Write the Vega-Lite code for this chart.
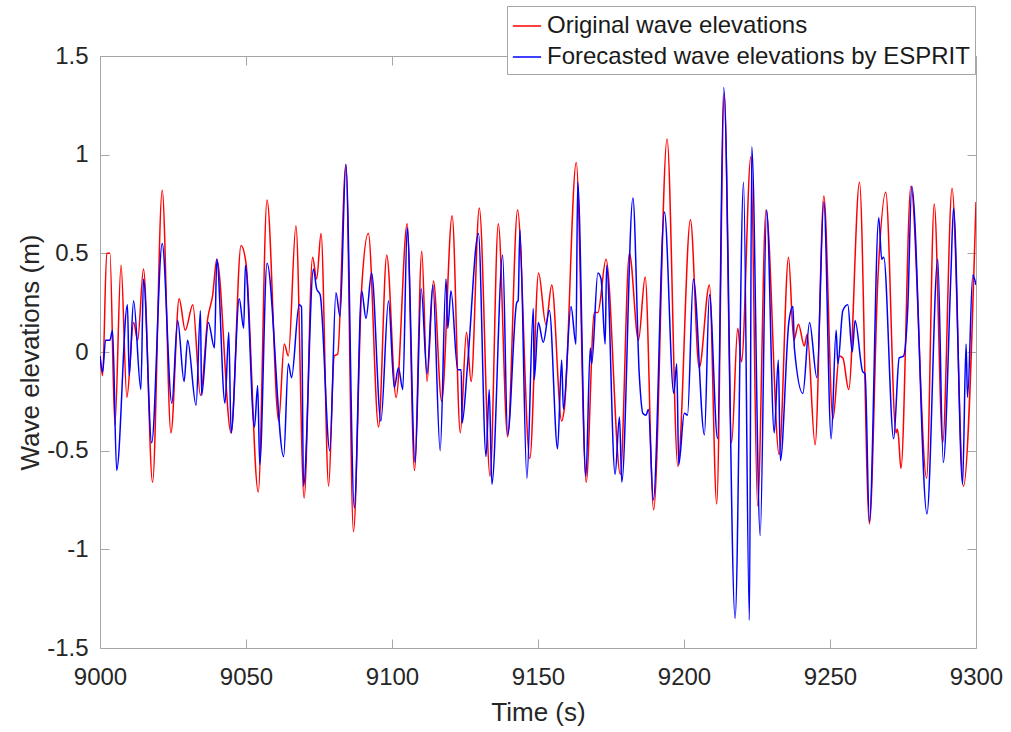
{
  "$schema": "https://vega.github.io/schema/vega-lite/v6.json",
  "width": 876,
  "height": 592,
  "autosize": {"type": "none"},
  "padding": {"left": 100, "top": 56, "right": 35, "bottom": 84},
  "background": "white",
  "config": {"font": "Liberation Sans", "view": {"stroke": null}},
  "datasets": {
    "original": [
      {"t": 9000, "v": -0.02}, {"t": 9000.9, "v": -0.12}, {"t": 9002.3, "v": 0.5}, {"t": 9003.4, "v": 0.5},
      {"t": 9005.1, "v": -0.37}, {"t": 9007.2, "v": 0.44}, {"t": 9009.2, "v": -0.23}, {"t": 9011.5, "v": 0.15},
      {"t": 9012.9, "v": 0.06}, {"t": 9014.9, "v": 0.42}, {"t": 9018.0, "v": -0.66}, {"t": 9021.3, "v": 0.82},
      {"t": 9024.3, "v": -0.41}, {"t": 9027.1, "v": 0.27}, {"t": 9029.2, "v": 0.11}, {"t": 9031.8, "v": 0.24},
      {"t": 9034.4, "v": -0.22}, {"t": 9036.9, "v": 0.17}, {"t": 9038.6, "v": 0.29}, {"t": 9040.0, "v": 0.47},
      {"t": 9044.9, "v": -0.41}, {"t": 9048.3, "v": 0.54}, {"t": 9050.0, "v": 0.45}, {"t": 9054.2, "v": -0.71},
      {"t": 9057.2, "v": 0.77}, {"t": 9061.2, "v": -0.35}, {"t": 9063.1, "v": 0.04}, {"t": 9064.5, "v": -0.02},
      {"t": 9067.1, "v": 0.64}, {"t": 9069.9, "v": -0.74}, {"t": 9072.8, "v": 0.48}, {"t": 9074.2, "v": 0.37},
      {"t": 9075.7, "v": 0.6}, {"t": 9078.3, "v": -0.68}, {"t": 9080.2, "v": -0.02}, {"t": 9081.4, "v": -0.01},
      {"t": 9084.2, "v": 0.95}, {"t": 9086.8, "v": -0.91}, {"t": 9089.6, "v": 0.32}, {"t": 9091.9, "v": 0.6},
      {"t": 9095.4, "v": -0.38}, {"t": 9098.2, "v": 0.49}, {"t": 9101.4, "v": -0.23}, {"t": 9105.2, "v": 0.65},
      {"t": 9107.7, "v": -0.6}, {"t": 9110.2, "v": 0.51}, {"t": 9112.0, "v": -0.15}, {"t": 9114.2, "v": 0.36},
      {"t": 9117.0, "v": -0.25}, {"t": 9120.6, "v": 0.69}, {"t": 9123.4, "v": -0.41}, {"t": 9125.5, "v": 0.1},
      {"t": 9127.1, "v": -0.15}, {"t": 9129.9, "v": 0.73}, {"t": 9133.6, "v": -0.63}, {"t": 9136.4, "v": 0.65},
      {"t": 9139.6, "v": -0.43}, {"t": 9143.0, "v": 0.72}, {"t": 9147.2, "v": -0.54}, {"t": 9150.2, "v": 0.4},
      {"t": 9152.7, "v": 0.14}, {"t": 9154.7, "v": 0.34}, {"t": 9158.1, "v": -0.35}, {"t": 9159.0, "v": -0.29},
      {"t": 9163.1, "v": 0.96}, {"t": 9166.5, "v": -0.66}, {"t": 9169.3, "v": 0.2}, {"t": 9170.5, "v": 0.2},
      {"t": 9173.3, "v": 0.47}, {"t": 9178.2, "v": -0.62}, {"t": 9181.3, "v": 0.5}, {"t": 9184.4, "v": 0.06},
      {"t": 9186.7, "v": 0.38}, {"t": 9189.6, "v": -0.8}, {"t": 9194.2, "v": 1.08}, {"t": 9197.9, "v": -0.58},
      {"t": 9202.2, "v": 0.67}, {"t": 9205.2, "v": -0.08}, {"t": 9208.7, "v": 0.34}, {"t": 9211.2, "v": -0.77},
      {"t": 9213.8, "v": 1.31}, {"t": 9216.3, "v": -0.46}, {"t": 9218.4, "v": 0.12}, {"t": 9219.7, "v": -0.05},
      {"t": 9222.9, "v": 0.99}, {"t": 9225.2, "v": -0.78}, {"t": 9228.1, "v": 0.72}, {"t": 9232.6, "v": -0.52},
      {"t": 9235.8, "v": 0.48}, {"t": 9237.6, "v": 0.06}, {"t": 9239.2, "v": 0.14}, {"t": 9241.2, "v": 0.03},
      {"t": 9242.2, "v": 0.09}, {"t": 9244.9, "v": -0.47}, {"t": 9247.9, "v": 0.79}, {"t": 9251.0, "v": -0.34},
      {"t": 9253.2, "v": -0.02}, {"t": 9254.4, "v": -0.03}, {"t": 9256.4, "v": -0.19}, {"t": 9260.1, "v": 0.86},
      {"t": 9263.5, "v": -0.87}, {"t": 9266.4, "v": 0.37}, {"t": 9269.1, "v": 0.81}, {"t": 9272.6, "v": -0.41},
      {"t": 9273.0, "v": -0.39}, {"t": 9273.4, "v": -0.42}, {"t": 9274.3, "v": -0.59}, {"t": 9277.7, "v": 0.84},
      {"t": 9283.1, "v": -0.64}, {"t": 9285.7, "v": 0.75}, {"t": 9288.6, "v": -0.46}, {"t": 9291.8, "v": 0.83},
      {"t": 9295.7, "v": -0.68}, {"t": 9300, "v": 0.76}
    ],
    "forecast": [
      {"t": 9000, "v": -0.02}, {"t": 9000.9, "v": -0.1}, {"t": 9001.9, "v": 0.06}, {"t": 9003.4, "v": 0.06},
      {"t": 9004.3, "v": 0.11}, {"t": 9005.7, "v": -0.6}, {"t": 9009.4, "v": 0.24}, {"t": 9010.0, "v": -0.12},
      {"t": 9011.5, "v": 0.26}, {"t": 9014.0, "v": -0.19}, {"t": 9014.9, "v": 0.37}, {"t": 9017.7, "v": -0.46},
      {"t": 9021.3, "v": 0.55}, {"t": 9024.6, "v": -0.26}, {"t": 9026.6, "v": 0.16}, {"t": 9028.8, "v": -0.15},
      {"t": 9030.0, "v": 0.06}, {"t": 9032.9, "v": -0.27}, {"t": 9034.4, "v": 0.21}, {"t": 9034.8, "v": -0.22},
      {"t": 9037.1, "v": 0.15}, {"t": 9039.2, "v": 0.02}, {"t": 9040.0, "v": 0.47}, {"t": 9042.8, "v": -0.26},
      {"t": 9044.1, "v": 0.1}, {"t": 9044.9, "v": -0.41}, {"t": 9047.7, "v": 0.27}, {"t": 9049.2, "v": 0.12},
      {"t": 9049.8, "v": 0.44}, {"t": 9052.9, "v": -0.38}, {"t": 9054.0, "v": -0.17}, {"t": 9054.7, "v": -0.57},
      {"t": 9057.2, "v": 0.45}, {"t": 9062.9, "v": -0.53}, {"t": 9064.5, "v": -0.06}, {"t": 9065.6, "v": -0.13},
      {"t": 9068.2, "v": 0.24}, {"t": 9069.0, "v": 0.23}, {"t": 9069.7, "v": -0.68}, {"t": 9073.1, "v": 0.42},
      {"t": 9074.2, "v": 0.32}, {"t": 9075.4, "v": 0.29}, {"t": 9078.7, "v": -0.5}, {"t": 9080.8, "v": 0.3},
      {"t": 9082.2, "v": 0.18}, {"t": 9084.2, "v": 0.95}, {"t": 9087.1, "v": -0.79}, {"t": 9089.6, "v": 0.31},
      {"t": 9091.1, "v": 0.17}, {"t": 9093.0, "v": 0.4}, {"t": 9096.2, "v": -0.35}, {"t": 9098.8, "v": 0.26},
      {"t": 9100.8, "v": -0.18}, {"t": 9102.2, "v": -0.08}, {"t": 9103.7, "v": -0.19}, {"t": 9105.2, "v": 0.63},
      {"t": 9107.9, "v": -0.56}, {"t": 9110.0, "v": 0.32}, {"t": 9112.0, "v": -0.11}, {"t": 9114.0, "v": 0.34},
      {"t": 9116.5, "v": -0.5}, {"t": 9118.5, "v": 0.37}, {"t": 9119.1, "v": 0.12}, {"t": 9120.2, "v": 0.31},
      {"t": 9122.5, "v": -0.09}, {"t": 9123.7, "v": -0.09}, {"t": 9124.0, "v": -0.36}, {"t": 9125.9, "v": -0.06},
      {"t": 9129.6, "v": 0.6}, {"t": 9132.2, "v": -0.53}, {"t": 9133.3, "v": -0.19}, {"t": 9134.2, "v": -0.67},
      {"t": 9137.9, "v": 0.49}, {"t": 9139.6, "v": -0.42}, {"t": 9142.7, "v": 0.25}, {"t": 9143.2, "v": 0.26},
      {"t": 9143.8, "v": 0.62}, {"t": 9146.2, "v": -0.64}, {"t": 9148.4, "v": 0.22}, {"t": 9148.7, "v": -0.14},
      {"t": 9150.1, "v": 0.15}, {"t": 9151.8, "v": 0.05}, {"t": 9153.9, "v": 0.21}, {"t": 9156.7, "v": -0.49},
      {"t": 9158.1, "v": -0.04}, {"t": 9158.7, "v": -0.29}, {"t": 9161.3, "v": 0.23}, {"t": 9163.0, "v": 0.04},
      {"t": 9163.6, "v": 0.86}, {"t": 9166.4, "v": -0.63}, {"t": 9167.9, "v": 0.02}, {"t": 9168.4, "v": -0.06},
      {"t": 9170.5, "v": 0.4}, {"t": 9171.6, "v": 0.37}, {"t": 9173.0, "v": 0.04}, {"t": 9173.5, "v": 0.44},
      {"t": 9176.4, "v": -0.62}, {"t": 9177.9, "v": -0.33}, {"t": 9178.7, "v": -0.66}, {"t": 9182.5, "v": 0.78},
      {"t": 9184.7, "v": -0.12}, {"t": 9185.9, "v": -0.31}, {"t": 9187.0, "v": -0.32}, {"t": 9187.8, "v": -0.29},
      {"t": 9189.5, "v": -0.75}, {"t": 9193.3, "v": 0.71}, {"t": 9196.5, "v": -0.21}, {"t": 9197.5, "v": -0.06},
      {"t": 9198.2, "v": -0.57}, {"t": 9200.1, "v": -0.31}, {"t": 9201.2, "v": -0.32}, {"t": 9203.2, "v": 0.37},
      {"t": 9207.0, "v": -0.42}, {"t": 9208.7, "v": 0.29}, {"t": 9211.5, "v": -0.44}, {"t": 9213.6, "v": 1.34},
      {"t": 9217.5, "v": -1.35}, {"t": 9220.4, "v": 0.86}, {"t": 9222.4, "v": -1.36}, {"t": 9223.2, "v": 1.04},
      {"t": 9226.1, "v": -0.93}, {"t": 9228.3, "v": 0.72}, {"t": 9230.9, "v": -0.41}, {"t": 9232.3, "v": -0.04},
      {"t": 9233.0, "v": -0.55}, {"t": 9235.9, "v": 0.15}, {"t": 9237.3, "v": 0.23}, {"t": 9237.8, "v": 0.02},
      {"t": 9240.7, "v": -0.21}, {"t": 9243.0, "v": 0.15}, {"t": 9245.5, "v": -0.13}, {"t": 9247.9, "v": 0.76},
      {"t": 9250.4, "v": -0.44}, {"t": 9252.1, "v": 0.11}, {"t": 9252.7, "v": -0.06}, {"t": 9254.4, "v": 0.21},
      {"t": 9256.1, "v": 0.24}, {"t": 9257.6, "v": 0.0}, {"t": 9258.6, "v": 0.16}, {"t": 9261.2, "v": -0.1},
      {"t": 9262.0, "v": -0.11}, {"t": 9263.5, "v": -0.86}, {"t": 9266.7, "v": 0.68}, {"t": 9267.7, "v": 0.47},
      {"t": 9268.4, "v": 0.48}, {"t": 9271.8, "v": -0.44}, {"t": 9273.7, "v": -0.03}, {"t": 9275.2, "v": -0.02},
      {"t": 9276.6, "v": 0.21}, {"t": 9278.0, "v": 0.84}, {"t": 9283.2, "v": -0.82}, {"t": 9286.9, "v": 0.47},
      {"t": 9288.8, "v": -0.56}, {"t": 9291.4, "v": 0.39}, {"t": 9292.3, "v": 0.73}, {"t": 9295.4, "v": -0.67},
      {"t": 9296.6, "v": 0.04}, {"t": 9297.1, "v": -0.23}, {"t": 9298.9, "v": 0.39}, {"t": 9300, "v": 0.34}
    ]
  },
  "layer": [
    {
      "data": {"name": "original"},
      "mark": {"type": "line", "interpolate": "monotone", "strokeWidth": 1.5, "clip": true},
      "encoding": {
        "x": {
          "field": "t", "type": "quantitative",
          "scale": {"domain": [9000, 9300], "nice": false, "zero": false},
          "axis": {
            "orient": "bottom", "values": [9000, 9050, 9100, 9150, 9200, 9250, 9300], "format": "d",
            "title": "Time (s)", "titleFontSize": 26, "titleFontWeight": "normal", "titleColor": "#262626", "titlePadding": 10,
            "labelFontSize": 24, "labelColor": "#262626", "labelPadding": 26, "labelFlush": false,
            "domainColor": "#a6a6a6", "tickColor": "#a6a6a6", "tickSize": -9, "grid": false
          }
        },
        "y": {
          "field": "v", "type": "quantitative",
          "scale": {"domain": [-1.5, 1.5], "nice": false, "zero": false},
          "axis": {
            "orient": "left", "values": [-1.5, -1, -0.5, 0, 0.5, 1, 1.5], "labelExpr": "'' + datum.value",
            "title": "Wave elevations (m)", "titleFontSize": 26, "titleFontWeight": "normal", "titleColor": "#262626", "titlePadding": 3,
            "labelFontSize": 24, "labelColor": "#262626", "labelPadding": 21, "labelFlush": false,
            "domainColor": "#a6a6a6", "tickColor": "#a6a6a6", "tickSize": -9, "grid": false
          }
        },
        "color": {
          "datum": "Original wave elevations",
          "scale": {"domain": ["Original wave elevations", "Forecasted wave elevations by ESPRIT"], "range": ["#ff0000", "#0000ff"]},
          "legend": {
            "orient": "none", "legendX": 407, "legendY": -50, "title": null,
            "symbolType": "stroke", "symbolSize": 800, "symbolStrokeWidth": 1.5,
            "labelFontSize": 24, "labelColor": "#1a1a1a", "labelLimit": 700, "labelOffset": 5,
            "rowPadding": 4, "padding": 5, "strokeColor": "#a6a6a6", "fillColor": "white"
          }
        }
      }
    },
    {
      "data": {"name": "forecast"},
      "mark": {"type": "line", "interpolate": "monotone", "strokeWidth": 1.5, "clip": true},
      "encoding": {
        "x": {
          "field": "t", "type": "quantitative",
          "axis": {
            "orient": "top", "values": [9000, 9050, 9100, 9150, 9200, 9250, 9300], "labels": false, "title": null,
            "domainColor": "#a6a6a6", "tickColor": "#a6a6a6", "tickSize": -9, "grid": false
          }
        },
        "y": {
          "field": "v", "type": "quantitative",
          "axis": {
            "orient": "right", "values": [-1.5, -1, -0.5, 0, 0.5, 1, 1.5], "labels": false, "title": null,
            "domainColor": "#a6a6a6", "tickColor": "#a6a6a6", "tickSize": -9, "grid": false
          }
        },
        "color": {"datum": "Forecasted wave elevations by ESPRIT"}
      }
    }
  ],
  "resolve": {"axis": {"x": "independent", "y": "independent"}}
}
